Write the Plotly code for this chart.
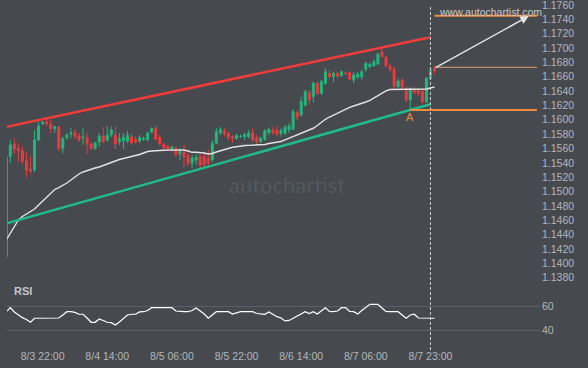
import pandas as pd
import plotly.graph_objects as go

# ---------------- data ----------------
first_candle = "2020-08-03 13:00"
n_candles = 107
times = pd.date_range(first_candle, periods=n_candles, freq="h")

open_ = [1.14088, 1.15489, 1.15663, 1.15600, 1.15565, 1.15426, 1.15314, 1.15300, 1.15719, 1.15949,
         1.15969, 1.15942, 1.15876, 1.15900, 1.15603, 1.15753, 1.15802, 1.15820, 1.15774, 1.15752,
         1.15753, 1.15663, 1.15603, 1.15691, 1.15774, 1.15719, 1.15788, 1.15788, 1.15698, 1.15705,
         1.15705, 1.15765, 1.15726, 1.15705, 1.15730, 1.15719, 1.15830, 1.15882, 1.15753, 1.15659,
         1.15628, 1.15586, 1.15603, 1.15523, 1.15551, 1.15502, 1.15394, 1.15440, 1.15489, 1.15496,
         1.15468, 1.15440, 1.15673, 1.15820, 1.15848, 1.15812, 1.15765, 1.15742, 1.15765, 1.15765,
         1.15765, 1.15820, 1.15751, 1.15695, 1.15728, 1.15820, 1.15858, 1.15858, 1.15812, 1.15812,
         1.15858, 1.15868, 1.16099, 1.16067, 1.16206, 1.16378, 1.16322, 1.16509, 1.16369, 1.16509,
         1.16648, 1.16601, 1.16645, 1.16615, 1.16652, 1.16656, 1.16555, 1.16597, 1.16601, 1.16704,
         1.16740, 1.16750, 1.16778, 1.16945, 1.16871, 1.16750, 1.16704, 1.16461, 1.16555, 1.16439,
         1.16276, 1.16425, 1.16408, 1.16392, 1.16252, 1.16578, 1.16718]
close = [1.15482, 1.15649, 1.15593, 1.15572, 1.15426, 1.15300, 1.15287, 1.15719, 1.15914, 1.15962,
         1.15949, 1.15879, 1.15904, 1.15603, 1.15739, 1.15785, 1.15816, 1.15770, 1.15719, 1.15760,
         1.15663, 1.15603, 1.15680, 1.15774, 1.15698, 1.15788, 1.15858, 1.15663, 1.15733, 1.15756,
         1.15788, 1.15677, 1.15691, 1.15751, 1.15737, 1.15816, 1.15879, 1.15733, 1.15670, 1.15614,
         1.15586, 1.15621, 1.15516, 1.15558, 1.15482, 1.15394, 1.15468, 1.15475, 1.15370, 1.15370,
         1.15398, 1.15673, 1.15834, 1.15868, 1.15802, 1.15756, 1.15742, 1.15781, 1.15770, 1.15792,
         1.15812, 1.15719, 1.15695, 1.15742, 1.15848, 1.15868, 1.15820, 1.15798, 1.15848, 1.15896,
         1.15914, 1.16113, 1.16035, 1.16252, 1.16392, 1.16276, 1.16509, 1.16369, 1.16531, 1.16670,
         1.16601, 1.16648, 1.16610, 1.16670, 1.16645, 1.16565, 1.16624, 1.16638, 1.16670, 1.16787,
         1.16774, 1.16810, 1.16917, 1.16879, 1.16750, 1.16704, 1.16471, 1.16541, 1.16461, 1.16276,
         1.16439, 1.16378, 1.16374, 1.16252, 1.16578, 1.16694, 1.16684]
high = [1.15496, 1.15719, 1.15746, 1.15677, 1.15628, 1.15551, 1.15482, 1.15858, 1.15974, 1.15983,
        1.16011, 1.15997, 1.15914, 1.15914, 1.15765, 1.15816, 1.15886, 1.15872, 1.15816, 1.15886,
        1.15812, 1.15684, 1.15691, 1.15816, 1.15900, 1.15914, 1.15904, 1.15914, 1.15816, 1.15816,
        1.15844, 1.15816, 1.15767, 1.15788, 1.15767, 1.15834, 1.15900, 1.15914, 1.15788, 1.15677,
        1.15649, 1.15635, 1.15625, 1.15607, 1.15649, 1.15537, 1.15509, 1.15523, 1.15519, 1.15537,
        1.15579, 1.15719, 1.15886, 1.15900, 1.15882, 1.15834, 1.15788, 1.15802, 1.15795, 1.15816,
        1.15858, 1.15882, 1.15788, 1.15765, 1.15868, 1.15896, 1.15896, 1.15914, 1.15882, 1.15928,
        1.15956, 1.16146, 1.16137, 1.16322, 1.16415, 1.16415, 1.16531, 1.16531, 1.16555, 1.16718,
        1.16694, 1.16670, 1.16670, 1.16684, 1.16680, 1.16670, 1.16670, 1.16666, 1.16694, 1.16810,
        1.16796, 1.16843, 1.16935, 1.16996, 1.16889, 1.16778, 1.16740, 1.16578, 1.16578, 1.16457,
        1.16453, 1.16453, 1.16429, 1.16425, 1.16597, 1.16718, 1.16740]
low = [1.14088, 1.15398, 1.15523, 1.15412, 1.15391, 1.15196, 1.15252, 1.15273, 1.15705, 1.15928,
       1.15914, 1.15812, 1.15816, 1.15565, 1.15533, 1.15719, 1.15742, 1.15739, 1.15691, 1.15649,
       1.15523, 1.15579, 1.15579, 1.15628, 1.15673, 1.15695, 1.15760, 1.15593, 1.15649, 1.15593,
       1.15677, 1.15649, 1.15670, 1.15677, 1.15705, 1.15705, 1.15809, 1.15719, 1.15635, 1.15593,
       1.15565, 1.15565, 1.15486, 1.15440, 1.15346, 1.15356, 1.15324, 1.15370, 1.15324, 1.15342,
       1.15346, 1.15412, 1.15670, 1.15788, 1.15765, 1.15719, 1.15681, 1.15719, 1.15746, 1.15719,
       1.15742, 1.15695, 1.15663, 1.15673, 1.15709, 1.15788, 1.15788, 1.15765, 1.15765, 1.15788,
       1.15816, 1.15858, 1.15997, 1.16044, 1.16183, 1.16206, 1.16238, 1.16346, 1.16346, 1.16485,
       1.16578, 1.16527, 1.16578, 1.16601, 1.16624, 1.16555, 1.16509, 1.16569, 1.16555, 1.16670,
       1.16718, 1.16740, 1.16764, 1.16875, 1.16732, 1.16670, 1.16415, 1.16439, 1.16415, 1.16252,
       1.16137, 1.16360, 1.16332, 1.16230, 1.16234, 1.16555, 1.16638]
moving_avg = [1.14325, 1.14422, 1.14520, 1.14604, 1.14652, 1.14687, 1.14722, 1.14757, 1.14813, 1.14868,
              1.14924, 1.14980, 1.15029, 1.15056, 1.15084, 1.15119, 1.15161, 1.15203, 1.15245, 1.15273,
              1.15293, 1.15314, 1.15328, 1.15342, 1.15363, 1.15391, 1.15412, 1.15433, 1.15447, 1.15461,
              1.15475, 1.15482, 1.15496, 1.15516, 1.15537, 1.15558, 1.15565, 1.15572, 1.15575, 1.15576,
              1.15578, 1.15579, 1.15579, 1.15579, 1.15579, 1.15565, 1.15547, 1.15547, 1.15547, 1.15537,
              1.15523, 1.15530, 1.15551, 1.15569, 1.15586, 1.15603, 1.15617, 1.15625, 1.15635, 1.15642,
              1.15644, 1.15646, 1.15647, 1.15649, 1.15656, 1.15670, 1.15680, 1.15688, 1.15698, 1.15719,
              1.15742, 1.15763, 1.15791, 1.15816, 1.15840, 1.15861, 1.15882, 1.15921, 1.15965, 1.16007,
              1.16039, 1.16067, 1.16095, 1.16120, 1.16146, 1.16173, 1.16192, 1.16209, 1.16227, 1.16248,
              1.16272, 1.16304, 1.16342, 1.16376, 1.16404, 1.16422, 1.16425, 1.16425, 1.16425, 1.16425,
              1.16425, 1.16425, 1.16425, 1.16425, 1.16429, 1.16443, 1.16457]
rsi = [55.3, 58.6, 55.1, 52.6, 50.4, 48.9, 46.6, 49.9, 49.9, 49.9,
       49.9, 49.9, 49.9, 50.1, 52.6, 55.3, 55.3, 54.7, 53.2, 53.2,
       50.1, 46.6, 46.6, 49.3, 48.1, 46.6, 46.3, 44.4, 46.9, 49.7,
       52.6, 53.2, 53.2, 55.1, 55.3, 56.3, 58.6, 58.6, 58.6, 58.6,
       58.6, 58.6, 55.9, 55.3, 55.3, 55.3, 56.3, 58.4, 55.9, 53.4,
       49.9, 52.6, 55.3, 55.3, 55.3, 55.3, 53.4, 54.2, 55.3, 55.3,
       55.3, 55.3, 53.8, 53.2, 53.2, 55.1, 53.0, 51.2, 50.1, 47.7,
       48.1, 49.9, 51.8, 53.8, 55.3, 53.8, 55.3, 53.4, 55.9, 58.6,
       55.6, 55.3, 55.9, 58.6, 58.6, 55.5, 55.3, 53.4, 56.3, 58.8,
       61.4, 61.4, 61.4, 58.4, 55.5, 55.3, 55.3, 55.3, 52.6, 49.9,
       52.6, 53.2, 50.1, 49.9, 49.9, 49.9, 49.9]

# channel (resistance / support) end points
channel_times = ["2020-08-03 13:00", "2020-08-07 22:00"]
resistance = [1.15901, 1.17151]
support = [1.14555, 1.16217]

# pattern levels and projection
now_time = "2020-08-07 22:00"
last_time = "2020-08-07 23:00"
point_a_time = "2020-08-07 17:00"
level_end_time = "2020-08-09 00:22"
target_level = 1.17451
breakout_level = 1.16732
point_a_level = 1.16137
arrow_start = ("2020-08-07 23:00", 1.16718)
arrow_end = ("2020-08-08 22:20", 1.17445)
point_a_label_y = 1.16039

# axes
x_range = ["2020-08-03 13:11", "2020-08-09 01:22"]
x_tick_times = ["2020-08-03 22:00", "2020-08-04 14:00", "2020-08-05 06:00", "2020-08-05 22:00",
                "2020-08-06 14:00", "2020-08-07 06:00", "2020-08-07 22:00"]
x_tick_labels = ["8/3 22:00", "8/4 14:00", "8/5 06:00", "8/5 22:00", "8/6 14:00", "8/7 06:00", "8/7 23:00"]
price_ticks = [1.1380, 1.1400, 1.1420, 1.1440, 1.1460, 1.1480, 1.1500, 1.1520, 1.1540, 1.1560,
               1.1580, 1.1600, 1.1620, 1.1640, 1.1660, 1.1680, 1.1700, 1.1720, 1.1740, 1.1760]
price_range = [1.137395, 1.176697]
rsi_ticks = [40, 60]
rsi_range = [27.9, 79.75]

# ---------------- style ----------------
BG = "#46494e"
TICK = "#b4b7bb"
CANDLE_UP = "#21b87f"
CANDLE_DN = "#f0393c"
RES_COLOR = "#f23b3b"
SUP_COLOR = "#1fbb8b"
ORANGE = "#ee8a3e"
FONT = "Liberation Sans, Arial, sans-serif"

fig = go.Figure()

fig.add_trace(go.Candlestick(
    x=times, open=open_, high=high, low=low, close=close,
    increasing=dict(line=dict(color=CANDLE_UP, width=1), fillcolor=CANDLE_UP),
    decreasing=dict(line=dict(color=CANDLE_DN, width=1), fillcolor=CANDLE_DN),
    whiskerwidth=0, hoverinfo="skip", xaxis="x", yaxis="y"))

fig.add_trace(go.Scatter(x=times, y=moving_avg, mode="lines",
                         line=dict(color="#e4e4e4", width=1.4), hoverinfo="skip",
                         xaxis="x", yaxis="y"))

fig.add_trace(go.Scatter(x=channel_times, y=resistance, mode="lines",
                         line=dict(color=RES_COLOR, width=2.5), hoverinfo="skip",
                         xaxis="x", yaxis="y"))
fig.add_trace(go.Scatter(x=channel_times, y=support, mode="lines",
                         line=dict(color=SUP_COLOR, width=2.5), hoverinfo="skip",
                         xaxis="x", yaxis="y"))

fig.add_trace(go.Scatter(x=[last_time, level_end_time], y=[target_level, target_level], mode="lines",
                         line=dict(color=ORANGE, width=2), hoverinfo="skip", xaxis="x", yaxis="y"))
fig.add_trace(go.Scatter(x=[last_time, level_end_time], y=[breakout_level, breakout_level], mode="lines",
                         line=dict(color="#e9a070", width=1), hoverinfo="skip", xaxis="x", yaxis="y"))
fig.add_trace(go.Scatter(x=[point_a_time, level_end_time], y=[point_a_level, point_a_level], mode="lines",
                         line=dict(color=ORANGE, width=2), hoverinfo="skip", xaxis="x", yaxis="y"))

fig.add_trace(go.Scatter(x=times, y=rsi, mode="lines",
                         line=dict(color="#ffffff", width=1.2), hoverinfo="skip",
                         xaxis="x", yaxis="y2"))

fig.add_shape(type="line", xref="x", yref="paper", x0=now_time, x1=now_time,
              y0=-0.0145, y1=0.9855, line=dict(color="#d0d0d0", width=1, dash="3px,2px"))

fig.add_annotation(x=arrow_end[0], y=arrow_end[1], ax=arrow_start[0], ay=arrow_start[1],
                   xref="x", yref="y", axref="x", ayref="y", text="", showarrow=True,
                   arrowhead=2, arrowsize=1.2, arrowwidth=1.4, arrowcolor="#e6e6e6")

fig.add_annotation(x=point_a_time, y=point_a_label_y, xref="x", yref="y", text="A",
                   xanchor="center", yanchor="middle",
                   showarrow=False, font=dict(family=FONT, size=11, color=ORANGE))

fig.add_annotation(x=0.9045, y=0.966, xref="paper", yref="paper", text="www.autochartist.com",
                   xanchor="center", yanchor="middle",
                   showarrow=False, font=dict(family=FONT, size=10.5, color="#c6c9cd"))

fig.add_annotation(x=0.524, y=0.4638, xref="paper", yref="paper", text="autochartist",
                   xanchor="center", yanchor="middle",
                   showarrow=False, font=dict(family="Lato, DejaVu Sans, sans-serif", size=22,
                                              color="rgba(255,255,255,0.09)"))

fig.add_annotation(x=0.030, y=0.1565, xref="paper", yref="paper", text="<b>RSI</b>",
                   xanchor="center", yanchor="middle",
                   showarrow=False, font=dict(family=FONT, size=11, color="#c2c5c9"))

fig.update_layout(
    width=588, height=368,
    margin=dict(l=7, r=47, t=0, b=23),
    paper_bgcolor=BG, plot_bgcolor=BG,
    showlegend=False,
    xaxis=dict(type="date", range=x_range, anchor="y2", tickvals=x_tick_times, ticktext=x_tick_labels,
               showgrid=False, zeroline=False, showline=False, ticks="", ticklabelstandoff=3,
               tickfont=dict(family=FONT, size=10.5, color=TICK), ticklabeloverflow="allow",
               rangeslider=dict(visible=False), automargin=False, fixedrange=True),
    yaxis=dict(domain=[0.1826, 1], range=price_range, side="right", anchor="x",
               tickvals=price_ticks, ticktext=[f"{v:.4f}" for v in price_ticks],
               showgrid=False, zeroline=False, showline=False, ticks="", ticklabeloverflow="allow",
               tickfont=dict(family=FONT, size=10.5, color=TICK), automargin=False),
    yaxis2=dict(domain=[0, 0.1826], range=rsi_range, side="right", anchor="x",
                tickvals=rsi_ticks, showgrid=True, gridcolor="#5c6065", gridwidth=1,
                zeroline=False, showline=False, ticks="", ticklabeloverflow="allow",
                tickfont=dict(family=FONT, size=10.5, color=TICK), automargin=False),
)

fig.write_html("out.html",
               config={"displayModeBar": False},
               post_script="document.body.style.margin='0';document.body.style.padding='0';"
                           "document.body.style.background='" + BG + "';")
